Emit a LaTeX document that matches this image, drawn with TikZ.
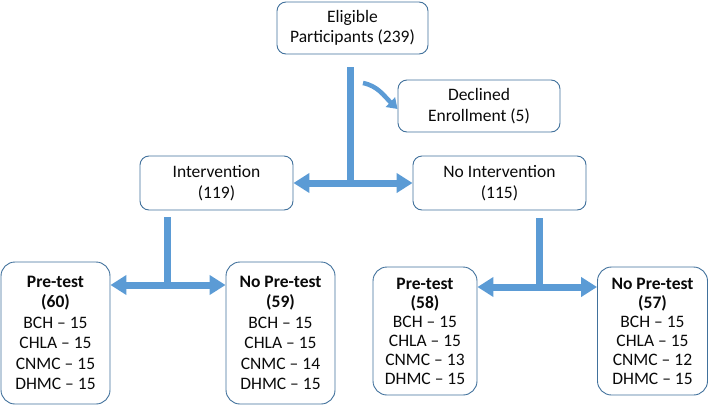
\documentclass[tikz,border=0pt]{standalone}
\usepackage{fontspec}
\setmainfont{Carlito}
\usetikzlibrary{arrows.meta}
\definecolor{arrblue}{RGB}{91,155,213}
\definecolor{boxblue}{RGB}{65,113,156}
\definecolor{txt}{RGB}{10,10,10}
\begin{document}
\begin{tikzpicture}[x=1pt,y=-1pt,
  box/.style={draw=boxblue,line width=0.9pt,rounded corners=9pt,fill=white,
    align=center,inner sep=0pt,text=txt,font=\fontsize{17.5pt}{20.5pt}\selectfont},
  tallbox/.style={box,rounded corners=14pt},
  tightbox/.style={tallbox,font=\fontsize{17.5pt}{19pt}\selectfont},
  arrline/.style={draw=arrblue,line width=7pt},
  arrtip/.style={arrline,-{Triangle[length=16pt,width=19pt]}},
  ]
\useasboundingbox (0,0) rectangle (709,410);
\node[box,minimum width=151pt,minimum height=52pt] (el) at (352.5,28) {Eligible\\Participants (239)};
\node[box,minimum width=162pt,minimum height=52pt] (dec) at (479,106) {Declined\\Enrollment (5)};
\node[box,minimum width=153pt,minimum height=54pt] (int) at (216.5,183) {Intervention\\(119)};
\node[box,minimum width=173pt,minimum height=54pt] (noint) at (499.5,183) {No Intervention\\(115)};
\node[tallbox,minimum width=109pt,minimum height=142pt] (p60) at (55.5,333) {\textbf{Pre-test}\\\textbf{(60)}\\BCH -- 15\\CHLA -- 15\\CNMC -- 15\\DHMC -- 15};
\node[tallbox,minimum width=109pt,minimum height=142pt] (np59) at (280.5,333) {\textbf{No Pre-test}\\\textbf{(59)}\\BCH -- 15\\CHLA -- 15\\CNMC -- 14\\DHMC -- 15};
\node[tightbox,minimum width=104pt,minimum height=128pt] (p58) at (425,331) {\textbf{Pre-test}\\\textbf{(58)}\\BCH -- 15\\CHLA -- 15\\CNMC -- 13\\DHMC -- 15};
\node[tightbox,minimum width=110pt,minimum height=128pt] (np57) at (652.5,331) {\textbf{No Pre-test}\\\textbf{(57)}\\BCH -- 15\\CHLA -- 15\\CNMC -- 12\\DHMC -- 15};
% top split
\coordinate (s1) at (350,67);
\coordinate (j1) at (350,183);
\draw[arrline] (s1) -- ([yshift=3.5pt]j1);
\draw[arrtip] ([xshift=3.5pt]j1) -- (int.east);
\draw[arrtip] ([xshift=-3.5pt]j1) -- (noint.west);
% declined curved arrow
\coordinate (c1) at (363,83);
\draw[draw=arrblue,line width=4.5pt,-{Triangle[length=10pt,width=13pt]}] (c1) .. controls (378,86) and (384,96) .. (dec.west |- 0,109);
% intervention split
\coordinate (s2) at (167,217);
\coordinate (j2) at (167,285);
\draw[arrline] (s2) -- ([yshift=3.5pt]j2);
\draw[arrtip] ([xshift=3.5pt]j2) -- (j2 -| p60.east);
\draw[arrtip] ([xshift=-3.5pt]j2) -- (j2 -| np59.west);
% no intervention split
\coordinate (s3) at (539,218);
\coordinate (j3) at (539,287);
\draw[arrline] (s3) -- ([yshift=3.5pt]j3);
\draw[arrtip] ([xshift=3.5pt]j3) -- (j3 -| p58.east);
\draw[arrtip] ([xshift=-3.5pt]j3) -- (j3 -| np57.west);
\end{tikzpicture}
\end{document}
